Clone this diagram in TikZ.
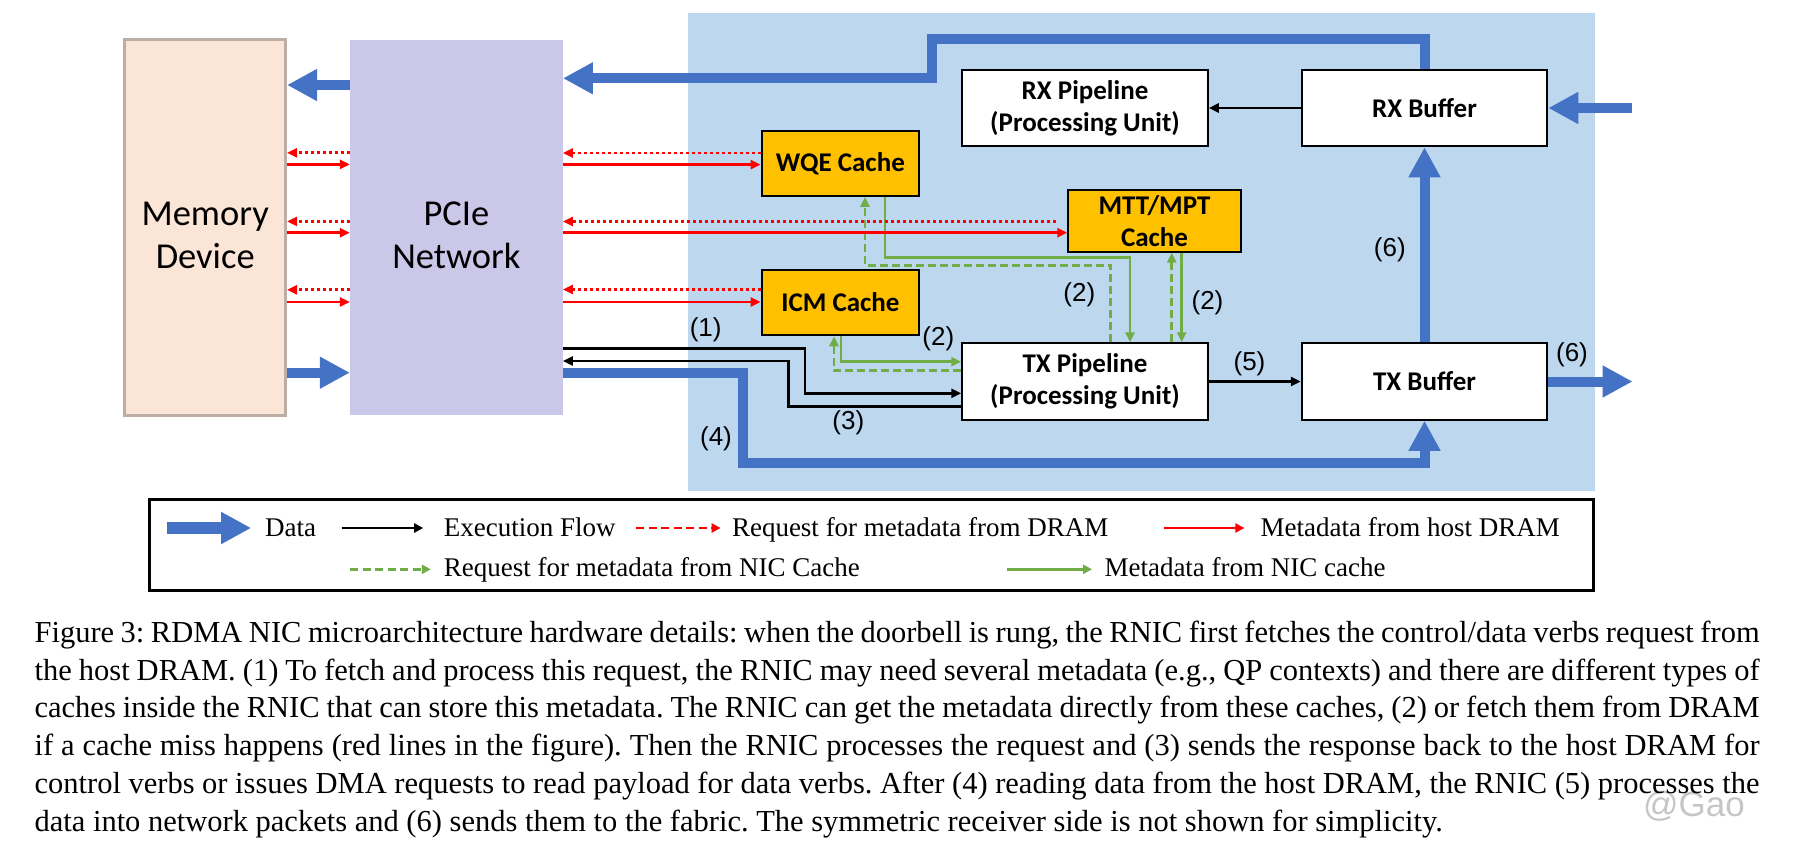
\documentclass[tikz,border=0pt]{standalone}
\usepackage{fontspec}
\setmainfont{Liberation Serif}
\newfontfamily\calibri{Carlito}
\newfontfamily\arialf{Liberation Sans}
\usetikzlibrary{positioning,arrows.meta}
\frenchspacing
\definecolor{dblue}{HTML}{4472C4}
\definecolor{nicbg}{HTML}{BDD7EE}
\definecolor{gold}{HTML}{FFC000}
\definecolor{cgreen}{HTML}{70AD47}
\definecolor{memfill}{HTML}{FBE5D6}
\definecolor{memline}{HTML}{BCADA5}
\definecolor{pciefill}{HTML}{CBC7E8}
\tikzset{
unitbox/.style={
  rectangle, draw=black, line width=2pt, fill=white,
  align=center, inner sep=1pt,
  minimum width=245.5pt, minimum height=76.5pt,
  font=\calibri\bfseries\fontsize{27}{32}\selectfont
  },
cachebox/.style={unitbox, fill=gold, minimum width=157.7pt, minimum height=65.3pt},
hostbox/.style={rectangle, minimum height=376pt, inner sep=0pt},
bigtxt/.style={align=center, font=\calibri\fontsize{36.5}{43.3}\selectfont},
data/.style={draw=dblue, line width=10pt, -{Triangle[length=30pt,width=30pt]}},
flow/.style={draw=black, line width=2.7pt, -{Triangle[length=10pt,width=9pt]}},
miss/.style={draw=red, line width=2.7pt, -{Triangle[length=10pt,width=9pt]}},
fetch/.style={miss, dash pattern=on 3pt off 3pt},
hit/.style={draw=cgreen, line width=2.7pt, -{Triangle[length=10pt,width=9pt]}},
req/.style={hit, dash pattern=on 8pt off 4pt},
lbl/.style={font=\arialf\fontsize{26}{26}\selectfont, inner sep=0pt},
lgtxt/.style={anchor=base west, inner sep=0pt, font=\fontsize{27}{27}\selectfont},
lgline/.style={line width=2.4pt, -{Triangle[length=9pt,width=9pt]}},
lgdash/.style={lgline, dash pattern=on 8pt off 4.5pt}
}

\begin{document}
\begin{tikzpicture}[x=1pt,y=-1pt]
\useasboundingbox (0,0) rectangle (1795,846);

% NIC area
\fill[nicbg] (688,13.3) rectangle (1594.7,490.7);

\node[hostbox, fill=memfill, draw=memline, line width=3pt, minimum width=160.7pt]
  (mem) at (205.2,227.7) {};
\node[hostbox, fill=pciefill, minimum width=212.7pt, minimum height=375pt]
  (pcie) at (456.4,227.5) {};
\node[bigtxt] (memtxt) at ([yshift=-8pt]mem.center) {Memory\\Device};
\node[bigtxt] (pcietxt) at ([yshift=-8pt]pcie.center) {PCIe\\Network};

\node[unitbox] (txpipe) at (1085,381.5) {TX Pipeline\\(Processing Unit)};
\node[unitbox, right=92pt of txpipe] (txbuf) {TX Buffer};
\node[unitbox, above=195pt of txbuf] (rxbuf) {RX Buffer};
\node[unitbox, left=92pt of rxbuf] (rxpipe) {RX Pipeline\\(Processing Unit)};

\node[cachebox] (wqe) at (840.4,163.3) {WQE Cache};
\node[cachebox, below=72pt of wqe] (icm) {ICM Cache};
\node[cachebox, minimum width=172.4pt, minimum height=61.7pt]
  (mtt) at (1154.5,220.8) {MTT/MPT\\Cache};

% data
\draw[data] (pcie.west |- 0,85) -- (mem.east |- 0,85);
\draw[data] (mem.east |- 0,372.7) -- (pcie.west |- 0,372.7);

\coordinate (rxstep) at (931.7,39.3);
\draw[data] (rxbuf.north) |- (rxstep) |- (pcie.east |- 0,78.3);

\coordinate (rxin) at (1632,108);
\draw[data] (rxin) -- (rxbuf.east);
\draw[data] (txbuf.north) -- (rxbuf.south);
\coordinate (txout) at (1632.6,381.5);
\draw[data] (txbuf.east) -- (txout);

\coordinate (dmaturn) at (742.7,463.3);
\draw[data] (pcie.east |- 0,372.7) -| (dmaturn) -| (txbuf.south);

% execution flow
\draw[flow] (rxbuf.west) -- (rxpipe.east);
\draw[flow] (txpipe.east) -- (txbuf.west);

\coordinate (fetchturn) at (805,393.3);
\draw[flow] (pcie.east |- 0,348.3) -| (fetchturn) -- (fetchturn -| txpipe.west);
\coordinate (respturn) at (788.3,361);
\draw[flow] (txpipe.west |- 0,406.7) -| (respturn) -- (respturn -| pcie.east);

% metadata from NIC caches
\coordinate (wqeturn) at (1130,257.7);
\draw[hit] (885,0 |- wqe.south) |- (wqeturn) -- (wqeturn |- txpipe.north);
\coordinate (wqereq) at (865,265.3);
\draw[req] (1110.7,0 |- txpipe.north) |- (wqereq) -- (wqereq |- wqe.south);

\draw[req] (1171.7,0 |- txpipe.north) -- (1171.7,0 |- mtt.south);
\draw[hit] (1181.7,0 |- mtt.south) -- (1181.7,0 |- txpipe.north);

\coordinate (icmturn) at (841,361.7);
\draw[hit] (icmturn |- icm.south) -- (icmturn) -- (icmturn -| txpipe.west);
\coordinate (icmreq) at (834,370.7);
\draw[req] (icmreq -| txpipe.west) -- (icmreq) -- (icmreq |- icm.south);

% metadata from host DRAM
\draw[fetch] (pcie.west |- 0,152.8) -- (mem.east |- 0,152.8);
\draw[miss] (mem.east |- 0,164.4) -- (pcie.west |- 0,164.4);
\draw[fetch] (pcie.west |- 0,221.4) -- (mem.east |- 0,221.4);
\draw[miss] (mem.east |- 0,232.7) -- (pcie.west |- 0,232.7);
\draw[fetch] (pcie.west |- 0,289.8) -- (mem.east |- 0,289.8);
\draw[miss] (mem.east |- 0,302) -- (pcie.west |- 0,302);

\draw[fetch] (wqe.west |- 0,153) -- (pcie.east |- 0,153);
\draw[miss] (pcie.east |- 0,164.6) -- (wqe.west |- 0,164.6);
\draw[fetch, shorten <=11pt] (mtt.west |- 0,221.5) -- (pcie.east |- 0,221.5);
\draw[miss] (pcie.east |- 0,232.7) -- (mtt.west |- 0,232.7);
\draw[fetch] (icm.west |- 0,289.5) -- (pcie.east |- 0,289.5);
\draw[miss] (pcie.east |- 0,302) -- (icm.west |- 0,302);

% step labels
\node[lbl] (l1) at (705.7,330) {(1)};
\node[lbl] (l2a) at (938.3,338.5) {(2)};
\node[lbl] (l2b) at (1079.3,295) {(2)};
\node[lbl] (l2c) at (1207.5,303) {(2)};
\node[lbl] (l3) at (848.3,422.7) {(3)};
\node[lbl] (l4) at (716,438.3) {(4)};
\node[lbl] (l5) at (1249.5,363.3) {(5)};
\node[lbl] (l6a) at (1389.8,250) {(6)};
\node[lbl] (l6b) at (1572,354.3) {(6)};

% legend
\node[draw, line width=3pt, minimum width=1444pt, minimum height=90.7pt, inner sep=0pt]
  (legend) at (871.25,544.65) {};

\node[lgtxt] (ldata) at (265,536.7) {Data};
\node[lgtxt] (lexec) at (443.6,536.7) {Execution Flow};
\node[lgtxt] (lfetch) at (731.8,536.7) {Request for metadata from DRAM};
\node[lgtxt] (lmiss) at (1260.4,536.7) {Metadata from host DRAM};
\node[lgtxt] (lreq) at (443.6,576.7) {Request for metadata from NIC Cache};
\node[lgtxt] (lhit) at (1104.3,576.7) {Metadata from NIC cache};

\draw[data, line width=12pt]
  ([shift={(-98.5,-8.7)}]ldata.base west) -- ([shift={(-13.8,-8.7)}]ldata.base west);
\draw[lgline, black]
  ([shift={(-102.1,-8.7)}]lexec.base west) -- ([shift={(-20.4,-8.7)}]lexec.base west);
\draw[lgdash, red]
  ([shift={(-95.8,-8.7)}]lfetch.base west) -- ([shift={(-11.2,-8.7)}]lfetch.base west);
\draw[lgline, red]
  ([shift={(-96.4,-8.7)}]lmiss.base west) -- ([shift={(-16,-8.7)}]lmiss.base west);
\draw[lgdash, cgreen]
  ([shift={(-93.4,-7.4)}]lreq.base west) -- ([shift={(-12.8,-7.4)}]lreq.base west);
\draw[lgline, cgreen]
  ([shift={(-97.8,-7.4)}]lhit.base west) -- ([shift={(-12.3,-7.4)}]lhit.base west);

% caption
\node[font=\arialf\fontsize{35}{35}\selectfont, text=gray!45] (mark) at (1694,806) {@Gao};

\node[anchor=base west, inner sep=0pt, font=\fontsize{30.5}{37.8}\selectfont]
  (caption) at (34.4,642.3)
{\parbox[t]{1725pt}{Figure 3: RDMA NIC microarchitecture hardware details: when the doorbell is rung, the RNIC first fetches the control/data verbs request from\linebreak
the host DRAM. (1) To fetch and process this request, the RNIC may need several metadata (e.g., QP contexts) and there are different types of\linebreak
caches inside the RNIC that can store this metadata. The RNIC can get the metadata directly from these caches, (2) or fetch them from DRAM\linebreak
if a cache miss happens (red lines in the figure). Then the RNIC processes the request and (3) sends the response back to the host DRAM for\linebreak
control verbs or issues DMA requests to read payload for data verbs. After (4) reading data from the host DRAM, the RNIC (5) processes the\linebreak
data into network packets and (6) sends them to the fabric. The symmetric receiver side is not shown for simplicity.}};

\end{tikzpicture}
\end{document}
